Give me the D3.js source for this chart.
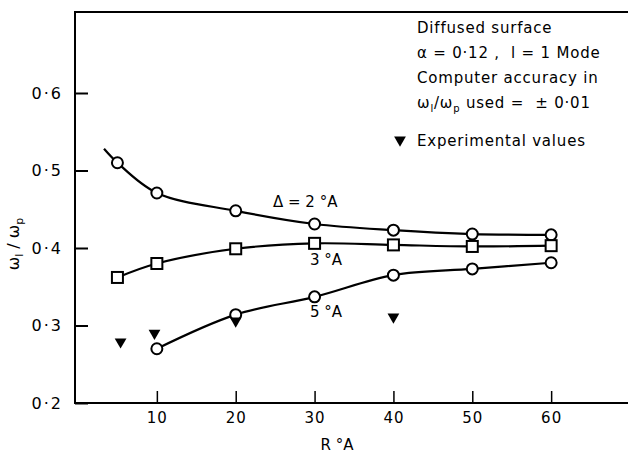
<!DOCTYPE html>
<html>
<head>
<meta charset="utf-8">
<script src="https://cdn.jsdelivr.net/npm/d3@7"></script>
<style>
  body { margin: 0; background: #fff; }
  svg text { font-family: "DejaVu Sans", sans-serif; fill: #000; white-space: pre; }
</style>
</head>
<body>
<script>
var width = 628,
    height = 456;

// Radius R (Å) at which the mode was computed
var radius = [5, 10, 20, 30, 40, 50, 60];
// omega_l / omega_p for each surface width
var delta2 = [0.510, 0.471, 0.448, 0.431, 0.423, 0.418, 0.417];
var delta3 = [0.362, 0.380, 0.399, 0.406, 0.404, 0.402, 0.403];
var radius5 = [10, 20, 30, 40, 50, 60];
var delta5 = [0.270, 0.314, 0.337, 0.365, 0.373, 0.381];
// the 2 Å curve is drawn on a little past the first point
var delta2Lead = [3.3, 0.528];
// Experimental values
var expR = [5.4, 9.7, 20, 40];
var expW = [0.279, 0.290, 0.306, 0.311];

var yTicks = [0.2, 0.3, 0.4, 0.5, 0.6];
var xTicks = [10, 20, 30, 40, 50, 60];

var axLeft = 75, axTop = 12, axBottom = 403;

var x = d3.scaleLinear().domain([0, 70]).range([78, 630]);
var y = d3.scaleLinear().domain([0.2, 0.6]).range([403, 93]);

var svg = d3.select('body').append('svg')
    .attr('width', width)
    .attr('height', height);

// frame (left, top and bottom only)
svg.append('path')
    .attr('d', 'M628,' + axTop + 'H' + axLeft + 'V' + axBottom + 'H628')
    .attr('fill', 'none')
    .attr('stroke', '#000')
    .attr('stroke-width', 2);

var fmt = function(d) { return d3.format('.1f')(d).replace('.', '\u00b7'); };

var yAxis = svg.append('g')
    .attr('transform', 'translate(' + axLeft + ',0)')
    .call(d3.axisLeft(y).tickValues(yTicks).tickFormat(fmt)
      .tickSizeInner(-13).tickSizeOuter(0).tickPadding(12));
yAxis.select('.domain').remove();
yAxis.selectAll('line').attr('stroke-width', 2);
yAxis.selectAll('text')
    .style('font-size', '16px')
    .style('letter-spacing', '2px')
    .style('font-family', '"DejaVu Sans", sans-serif');

var xAxis = svg.append('g')
    .attr('transform', 'translate(0,' + axBottom + ')')
    .call(d3.axisBottom(x).tickValues(xTicks)
      .tickSizeInner(-12).tickSizeOuter(0).tickPadding(9));
xAxis.select('.domain').remove();
xAxis.selectAll('line').attr('stroke-width', 1.5);
xAxis.selectAll('text')
    .style('font-size', '15px')
    .style('letter-spacing', '1px')
    .style('font-family', '"DejaVu Sans", sans-serif');

// curves
var line = d3.line()
    .x(function(d) { return x(d[0]); })
    .y(function(d) { return y(d[1]); })
    .curve(d3.curveCatmullRom.alpha(0.5));

var s2 = [delta2Lead].concat(radius.map(function(r, i) { return [r, delta2[i]]; }));
var s3 = radius.map(function(r, i) { return [r, delta3[i]]; });
var s5 = radius5.map(function(r, i) { return [r, delta5[i]]; });

[s2, s3, s5].forEach(function(s) {
  svg.append('path')
      .datum(s)
      .attr('d', line)
      .attr('fill', 'none')
      .attr('stroke', '#000')
      .attr('stroke-width', 2.2);
});

// markers
function circles(s) {
  svg.append('g').selectAll('circle')
      .data(s)
      .enter().append('circle')
      .attr('cx', function(d) { return x(d[0]); })
      .attr('cy', function(d) { return y(d[1]); })
      .attr('r', 5.5)
      .attr('fill', '#fff')
      .attr('stroke', '#000')
      .attr('stroke-width', 2);
}
circles(s2.slice(1));
circles(s5);

svg.append('g').selectAll('rect')
    .data(s3)
    .enter().append('rect')
    .attr('x', function(d) { return x(d[0]) - 5.5; })
    .attr('y', function(d) { return y(d[1]) - 5.5; })
    .attr('width', 11)
    .attr('height', 11)
    .attr('fill', '#fff')
    .attr('stroke', '#000')
    .attr('stroke-width', 2);

var tri = d3.symbol().type(d3.symbolTriangle).size(60);
svg.append('g').selectAll('path')
    .data(expR)
    .enter().append('path')
    .attr('d', tri)
    .attr('transform', function(d, i) {
      return 'translate(' + x(d) + ',' + y(expW[i]) + ') rotate(180)';
    })
    .attr('fill', '#000');

// curve labels
var lab = svg.append('g').style('font-size', '15px');
lab.append('text').attr('x', 273).attr('y', 207).text('\u0394 = 2 \u00b0A');
lab.append('text').attr('x', 310).attr('y', 265).text('3 \u00b0A');
lab.append('text').attr('x', 310).attr('y', 317).text('5 \u00b0A');

// notes block
var note = svg.append('g').style('font-size', '15px').style('letter-spacing', '0.8px');
note.append('text').attr('x', 417).attr('y', 33).text('Diffused surface');
note.append('text').attr('x', 417).attr('y', 58).text('\u03b1 = 0\u00b712 ,  l = 1 Mode');
note.append('text').attr('x', 417).attr('y', 83).text('Computer accuracy in');
var t4 = note.append('text').attr('x', 417).attr('y', 108);
t4.append('tspan').text('\u03c9');
t4.append('tspan').attr('dy', 4).style('font-size', '10px').text('l');
t4.append('tspan').attr('dy', -4).text('/\u03c9');
t4.append('tspan').attr('dy', 4).style('font-size', '10px').text('p');
t4.append('tspan').attr('dy', -4).text(' used =  \u00b1 0\u00b701');

svg.append('path')
    .attr('d', tri)
    .attr('transform', 'translate(400,140) rotate(180)')
    .attr('fill', '#000');
note.append('text').attr('x', 417).attr('y', 146).text('Experimental values');

// axis titles
svg.append('text')
    .attr('x', 337).attr('y', 450)
    .attr('text-anchor', 'middle')
    .style('font-size', '15px')
    .text('R \u00b0A');

var yl = svg.append('text')
    .attr('transform', 'translate(19,244) rotate(-90)')
    .attr('text-anchor', 'middle')
    .style('font-size', '16px');
yl.append('tspan').text('\u03c9');
yl.append('tspan').attr('dy', 4).style('font-size', '11px').text('l');
yl.append('tspan').attr('dy', -4).text(' / \u03c9');
yl.append('tspan').attr('dy', 4).style('font-size', '11px').text('p');
</script>
</body>
</html>
